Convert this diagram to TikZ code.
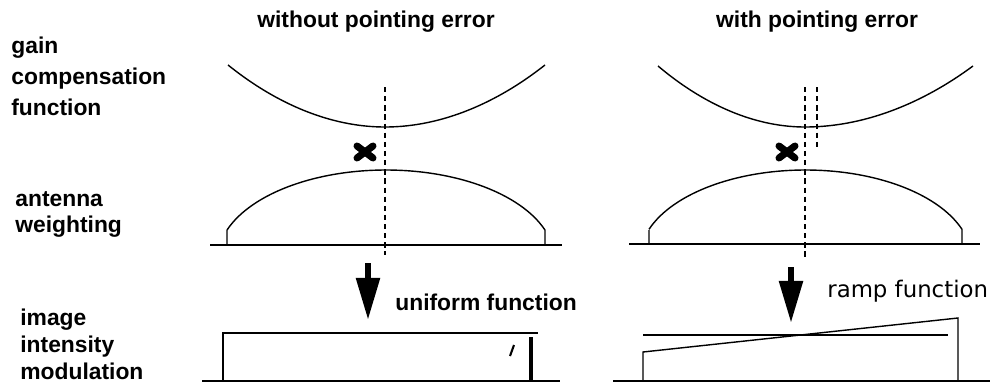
\documentclass[tikz,border=0pt]{standalone}
\usepackage{fontspec}
\setmainfont{Liberation Sans}
\newfontfamily\rampfont{DejaVu Sans}
\usetikzlibrary{arrows.meta}

\begin{document}
\begin{tikzpicture}[
    x=0.02cm, y=-0.02cm,
    every node/.style={inner sep=0pt},
    title/.style={font=\fontsize{13}{16}\selectfont\bfseries, anchor=base},
    rowlabel/.style={font=\fontsize{13}{17.5}\selectfont\bfseries, align=left, anchor=north west},
    curve/.style={line width=0.8pt},
    ground/.style={line width=0.9pt},
    guideline/.style={line width=0.7pt, dash pattern=on 3pt off 2.2pt},
    flow/.style={-{Triangle[length=24pt, width=13pt]}, line width=3.5pt},
    cross/.style={line width=4pt, line cap=round}
]
    \useasboundingbox (0,0) rectangle (990,389);

    % Nodes
    \node[title] (tleft) at (376,27) {without pointing error};
    \node[title] (tright) at (817,27) {with pointing error};

    \node[rowlabel] (gain) at (11,37) {gain\\compensation\\function};
    \node[rowlabel, font=\fontsize{13}{15}\selectfont\bfseries] (antenna) at (15,191) {antenna\\weighting};
    \node[rowlabel, font=\fontsize{13}{15.3}\selectfont\bfseries] (image) at (20,309) {image\\intensity\\modulation};

    \node[font=\fontsize{13}{16}\selectfont\bfseries, anchor=base west] (uniform) at (395,310) {uniform function};
    \node[font=\fontsize{13}{16}\selectfont\rampfont, anchor=base west] (ramp) at (827,297) {ramp function};

    \coordinate (arrowL) at (368,263);
    \coordinate (tipL) at (368,320);
    \coordinate (arrowR) at (791,267);
    \coordinate (tipR) at (791,323);

    % left: without pointing error
    \draw[curve] (228,65) parabola bend (385,127) (545,65);
    \draw[guideline] (385,87) -- (385,255);
    \draw[cross] (357,146) -- (373,158) (357,158) -- (373,146);
    \draw[curve] (227,245) -- (227,230)
        plot[smooth, samples=61, domain=-70.53:70.53] ({386+168.6*sin(\x)}, {260-90*cos(\x)})
        -- (545,245);
    \draw[ground] (210,245) -- (562,245);
    \draw[curve] (223,381) -- (223,333) -- (538,333);
    \draw[line width=2.2pt] (531,337) -- (531,381);
    \draw[line width=1.2pt] (510,356) -- (514,345);
    \draw[ground] (202,381) -- (560,381);

    % right: with pointing error
    \draw[curve] (658,66) parabola bend (805,127) (973,66);
    \draw[guideline] (805,87) -- (805,260);
    \draw[guideline] (817,87) -- (817,148);
    \draw[cross] (779,146) -- (795,158) (779,158) -- (795,146);
    \draw[curve] (649,244) -- (649,230)
        plot[smooth, samples=61, domain=-70.53:70.53] ({805.5+166*sin(\x)}, {259-89*cos(\x)})
        -- (962,244);
    \draw[ground] (629,244) -- (980,244);
    \draw[curve] (643,335) -- (948,335);
    \draw[curve] (643,381) -- (643,352) -- (958,318) -- (958,381);
    \draw[ground] (613,381) -- (990,381);

    % Edges
    \draw[flow] (arrowL) -- (tipL);
    \draw[flow] (arrowR) -- (tipR);
\end{tikzpicture}
\end{document}
